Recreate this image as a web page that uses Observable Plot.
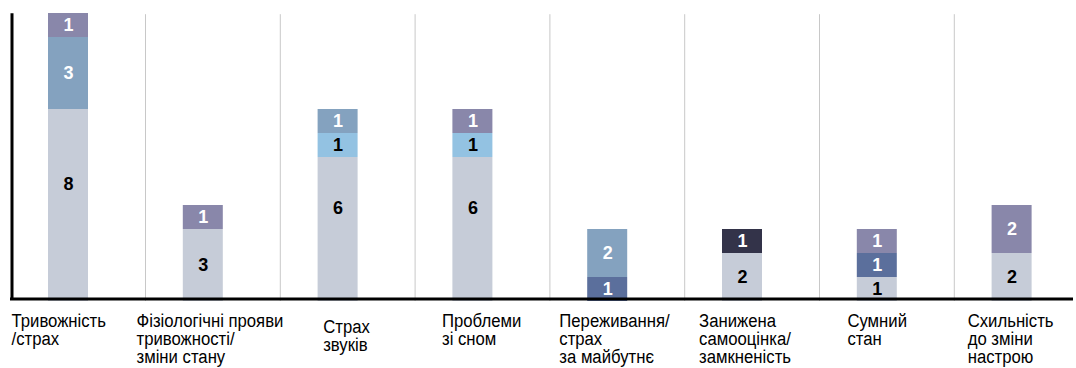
<!DOCTYPE html>
<html>
<head>
<meta charset="utf-8">
<script src="https://cdn.jsdelivr.net/npm/d3@7"></script>
<script src="https://cdn.jsdelivr.net/npm/@observablehq/plot@0.6"></script>
<style>
  html, body { margin: 0; padding: 0; background: #fff; }
  #chart svg { display: block; }
</style>
</head>
<body>
<div id="chart"></div>
<script>
// Categories (multi-line labels)
const categories = [
  "Тривожність\n/страх",
  "Фізіологічні прояви\nтривожності/\nзміни стану",
  "Страх\nзвуків",
  "Проблеми\nзі сном",
  "Переживання/\nстрах\nза майбутнє",
  "Занижена\nсамооцінка/\nзамкненість",
  "Сумний\nстан",
  "Схильність\nдо зміни\nнастрою"
];

// Stacked series, bottom to top
const seriesNames = ["Група 1", "Група 2", "Група 3", "Група 4", "Група 5", "Група 6"];
const group1 = [8, 3, 6, 6, 0, 2, 1, 2];
const group2 = [0, 0, 0, 0, 1, 0, 1, 0];
const group3 = [0, 0, 1, 1, 0, 0, 0, 0];
const group4 = [3, 0, 1, 0, 2, 0, 0, 0];
const group5 = [0, 0, 0, 0, 0, 1, 0, 0];
const group6 = [1, 1, 0, 1, 0, 0, 1, 2];
const seriesValues = [group1, group2, group3, group4, group5, group6];

// Styling
const seriesColors = ["#c6ccd8", "#5b6f9c", "#93c2e2", "#84a2bf", "#333349", "#8987aa"];
const darkLabelSeries = new Set(["Група 1", "Група 3"]);   // black value labels
const labelDx = [-66.6, -76.4, -24.5, -40.5, -58, -53, -39.5, -54];
const labelDy = [0, 0, 6, 0, 0, 0, 0, 0];
const labelSqueeze = 0.88;   // narrow the category captions horizontally

// Long table, one row per non-empty segment, series-major so stacking follows series order
const rows = [];
seriesNames.forEach((s, si) => {
  categories.forEach((c, ci) => {
    const v = seriesValues[si][ci];
    if (v > 0) rows.push({category: c, series: s, value: v});
  });
});

const step = 134.8;
const x0 = 10.2;
const barWidth = 40;
const pin = 1 - barWidth / step;
const barShift = -9.6;
const font = "'Liberation Sans', Arial, sans-serif";

const isBig = d => d.value >= 6;

const chart = Plot.plot({
  width: 1076,
  height: 368,
  marginTop: 13,
  marginBottom: 67,
  marginLeft: 10,
  marginRight: 3,
  style: {fontFamily: font, background: "#fff"},
  x: {domain: categories, range: [x0, x0 + step * categories.length], paddingInner: pin, paddingOuter: pin / 2, round: false, axis: null},
  y: {domain: [0, 12], axis: null},
  color: {domain: seriesNames, range: seriesColors},
  marks: [
    // vertical separators between categories
    Plot.ruleX(categories.slice(1), {x: d => d, y1: 0, y2: 11.95, dx: -step / 2, stroke: "#c8c8c8", strokeWidth: 1}),
    // stacked bars
    Plot.barY(rows, Plot.stackY({x: "category", y: "value", fill: "series", dx: barShift})),
    // value labels
    Plot.text(rows, Plot.stackY({
      x: "category", y: "value", dx: barShift,
      text: d => (!darkLabelSeries.has(d.series) ? String(d.value) : null),
      fill: "white", fontWeight: "bold", fontSize: 18
    })),
    Plot.text(rows, Plot.stackY({
      x: "category", y: "value", dx: barShift,
      text: d => (darkLabelSeries.has(d.series) && !isBig(d) ? String(d.value) : null),
      fill: "black", fontWeight: "bold", fontSize: 18
    })),
    Plot.text(rows, Plot.stackY({
      x: "category", y: "value", dx: barShift, dy: -21,
      text: d => (darkLabelSeries.has(d.series) && isBig(d) ? String(d.value) : null),
      fill: "black", fontWeight: "bold", fontSize: 18
    })),
    // axes lines
    Plot.ruleY([0], {dy: -2.5, stroke: "black", strokeWidth: 3}),
    Plot.ruleX([categories[0]], {x: d => d, y1: 0, y2: 11.95, dx: -step / 2 + 1.3, dy: -1, stroke: "black", strokeWidth: 3}),
    // category labels
    ...categories.map((c, i) => Plot.text([c], {
      x: d => d, y: 0, text: d => d,
      dx: labelDx[i], dy: 13 + labelDy[i],
      textAnchor: "start", lineAnchor: "top", lineHeight: 18 / 19,
      fontSize: 19, fill: "black", className: "cat-label"
    }))
  ]
});

// horizontally condense the captions around their left edge
d3.select(chart).selectAll(".cat-label text").each(function () {
  const t = this.getAttribute("transform") || "";
  this.setAttribute("transform", `${t} scale(${labelSqueeze},1)`);
});

document.getElementById("chart").appendChild(chart);
</script>
</body>
</html>
